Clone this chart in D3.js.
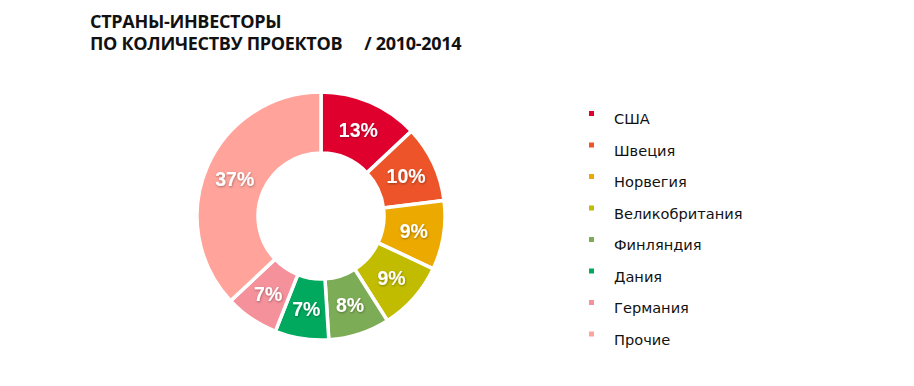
<!doctype html>
<html lang="ru">
<head>
    <meta charset="UTF-8">
    <script src="https://cdn.jsdelivr.net/npm/d3@7"></script>
    <title>Страны-инвесторы</title>
    <style>
        body { margin: 0; background: #fff; }
        svg { display: block; }
    </style>
</head>
<body>
<div id="chart"></div>
<script>
    // data
    var countries = ["США", "Швеция", "Норвегия", "Великобритания", "Финляндия", "Дания", "Германия", "Прочие"];
    var shares = [13, 10, 9, 9, 8, 7, 7, 37];
    var colors = ["#e0002e", "#ee5429", "#eca900", "#c1bc00", "#7dac56", "#00a95d", "#f4919b", "#ffa39b"];
    var titleLines = ["СТРАНЫ-ИНВЕСТОРЫ", "ПО КОЛИЧЕСТВУ ПРОЕКТОВ     / 2010-2014"];

    var width = 914, height = 386;
    var cx = 321, cy = 216, outerR = 124, innerR = 63;

    var svg = d3.select("#chart")
        .append("svg")
        .attr("width", width)
        .attr("height", height);

    // soft shadow under the percent labels
    var defs = svg.append("defs");
    var f = defs.append("filter").attr("id", "shadow")
        .attr("x", "-20%").attr("y", "-20%").attr("width", "140%").attr("height", "140%");
    f.append("feDropShadow")
        .attr("dx", 0.5).attr("dy", 1).attr("stdDeviation", 1)
        .attr("flood-color", "#000").attr("flood-opacity", 0.35);

    // title
    svg.append("g").selectAll("text")
        .data(titleLines)
        .enter()
        .append("text")
        .attr("x", 90)
        .attr("y", function (d, i) { return 28 + i * 22; })
        .attr("font-family", "'Open Sans', sans-serif")
        .attr("font-weight", "bold")
        .attr("font-size", 18)
        .attr("letter-spacing", -0.3)
        .attr("fill", "#111")
        .style("white-space", "pre")
        .text(function (d) { return d; });

    // donut
    var pie = d3.pie().sort(null).value(function (d) { return d; });
    var arcs = pie(shares);
    var arc = d3.arc().innerRadius(innerR).outerRadius(outerR);
    var labelArc = d3.arc().innerRadius(94).outerRadius(94);

    var g = svg.append("g").attr("transform", "translate(" + cx + "," + cy + ")");

    g.selectAll("path")
        .data(arcs)
        .enter()
        .append("path")
        .attr("d", arc)
        .attr("fill", function (d, i) { return colors[i]; })
        .attr("stroke", "#fff")
        .attr("stroke-width", 3.5);

    g.selectAll("text")
        .data(arcs)
        .enter()
        .append("text")
        .attr("transform", function (d) { return "translate(" + labelArc.centroid(d) + ")"; })
        .attr("text-anchor", "middle")
        .attr("dy", "0.36em")
        .attr("font-family", "'Liberation Sans', Arial, sans-serif")
        .attr("font-weight", "bold")
        .attr("font-size", 19.5)
        .attr("fill", "#fff")
        .attr("filter", "url(#shadow)")
        .text(function (d) { return d.data + "%"; });

    // legend
    var legend = svg.append("g").attr("transform", "translate(589,111)");
    var rows = legend.selectAll("g")
        .data(countries)
        .enter()
        .append("g")
        .attr("transform", function (d, i) { return "translate(0," + (i * 31.5) + ")"; });
    rows.append("rect")
        .attr("width", 5)
        .attr("height", 5)
        .attr("fill", function (d, i) { return colors[i]; });
    rows.append("text")
        .attr("x", 25)
        .attr("y", 13)
        .attr("font-family", "'DejaVu Sans', sans-serif")
        .attr("font-size", 14.6)
        .attr("fill", "#111")
        .text(function (d) { return d; });
</script>
</body>
</html>
